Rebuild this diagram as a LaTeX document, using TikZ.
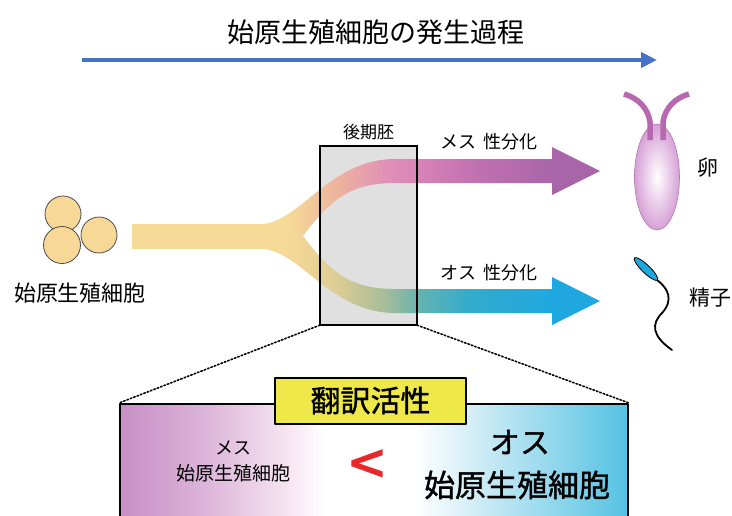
\documentclass[tikz,border=0pt]{standalone}
\usepackage{fontspec}
\setmainfont{Noto Sans CJK JP}[AutoFakeBold=1.2]
\newfontfamily\symfont{DejaVu Sans}
\usetikzlibrary{arrows.meta,positioning}

\definecolor{timeblue}{RGB}{68,114,196}
\definecolor{cellfill}{RGB}{247,216,151}
\definecolor{embryogray}{RGB}{224,224,224}
\definecolor{eggedge}{RGB}{214,160,214}
\definecolor{eggline}{RGB}{180,120,180}
\definecolor{tentacle}{RGB}{184,104,176}
\definecolor{spermblue}{RGB}{30,168,224}
\definecolor{tagyellow}{RGB}{238,232,74}
\definecolor{lessred}{RGB}{230,40,40}

\newcommand\jpsize[1]{\fontsize{#1}{#1}\selectfont}

% flow colours along x (path box maps to 25bp--75bp)
\pgfdeclarehorizontalshading{femaleflow}{100bp}{rgb(0bp)=(0.96,0.85,0.59); rgb(42bp)=(0.96,0.85,0.59);
  rgb(47bp)=(0.93,0.70,0.62); rgb(52bp)=(0.88,0.57,0.72); rgb(56bp)=(0.84,0.51,0.72);
  rgb(62bp)=(0.75,0.44,0.69); rgb(70bp)=(0.66,0.40,0.66); rgb(100bp)=(0.66,0.40,0.66)}
\pgfdeclarehorizontalshading{maleflow}{100bp}{rgb(0bp)=(0.96,0.85,0.59); rgb(42bp)=(0.96,0.85,0.59);
  rgb(47bp)=(0.86,0.80,0.58); rgb(52bp)=(0.65,0.74,0.60); rgb(56bp)=(0.38,0.70,0.70);
  rgb(61bp)=(0.20,0.67,0.80); rgb(70bp)=(0.12,0.66,0.88); rgb(100bp)=(0.12,0.66,0.88)}
\pgfdeclarehorizontalshading{panelshade}{100bp}{rgb(0bp)=(0.78,0.56,0.77); rgb(25bp)=(0.78,0.56,0.77);
  rgb(33bp)=(0.86,0.70,0.85); rgb(42bp)=(0.97,0.91,0.95); rgb(45bp)=(1,1,1); rgb(54bp)=(1,1,1);
  rgb(59bp)=(0.85,0.94,0.97); rgb(75bp)=(0.33,0.76,0.89); rgb(100bp)=(0.33,0.76,0.89)}

\tikzset{
  lbl/.style={inner sep=0pt},
  cell/.style={fill=cellfill,draw=black!70,line width=0.8pt},
  boxed/.style={draw=black,line width=2pt,inner sep=0pt},
}

\begin{document}
\begin{tikzpicture}[x=1pt,y=-1pt,line cap=round,line join=round]
  \useasboundingbox (0,0) rectangle (732,515);
  \clip (0,0) rectangle (732,515);

  % time line
  \node[lbl] (title) at (376,32) {\jpsize{27}始原生殖細胞の発生過程};
  \coordinate (tstart) at (82,60);
  \coordinate (tend) at (657,60);
  \draw[timeblue,line width=4pt,line cap=butt,-{Triangle[length=16pt,width=15pt]}] (tstart) -- (tend);

  % primordial germ cells
  \draw[cell] (63,214) circle (18);
  \draw[cell] (62,245) circle (18.5);
  \draw[cell] (99,235) circle (18);
  \node[lbl] (pgc) at (80,293) {\jpsize{22}始原生殖細胞};

  % late embryo window
  \node[fill=embryogray,inner sep=0pt,minimum width=97pt,minimum height=179pt] (late) at (368.5,235.5) {};
  \node[lbl,above=6pt of late] (lateLabel) {\jpsize{17}後期胚};

  % stem and branches
  \fill[cellfill] (132,224) rectangle (300,249);
  \shade[shading=femaleflow] (132,224) -- (262,224) .. controls (300,222) and (330,159) .. (395,159)
    -- (552,159) -- (552,147) -- (600,171) -- (552,195) -- (552,183) -- (395,183)
    .. controls (350,183) and (330,200) .. (303,236) -- (132,236) -- cycle;
  \shade[shading=maleflow] (132,249) -- (262,249) .. controls (300,250) and (330,313) .. (395,313)
    -- (552,313) -- (552,325) -- (600,301) -- (552,277) -- (552,289) -- (395,289)
    .. controls (350,289) and (330,272) .. (303,236) -- (132,236) -- cycle;
  \draw[line width=2pt,line join=miter] (late.south west) rectangle (late.north east);

  \node[lbl] (femaleLabel) at (489,142) {\jpsize{18}メス\hspace{0.4em}性分化};
  \node[lbl] (maleLabel) at (489,273) {\jpsize{18}オス\hspace{0.4em}性分化};

  % egg
  \shade[inner color=white,outer color=eggedge] (657,177) ellipse (22.5 and 53);
  \draw[eggline,line width=0.6pt] (657,177) ellipse (22.5 and 53);
  \draw[tentacle,line width=5.5pt,line cap=butt] (650,140) -- (650,122) .. controls (648,108) and (638,98) .. (624,94);
  \draw[tentacle,line width=5.5pt,line cap=butt] (663,140) -- (663,122) .. controls (665,108) and (675,98) .. (689,94);
  \node[lbl] (egg) at (708,168) {\jpsize{21}卵};

  % sperm
  \draw[line width=1.8pt] (657,280) .. controls (668,288) and (674,300) .. (662,313)
    .. controls (651,324) and (652,336) .. (672,350);
  \filldraw[fill=spermblue,draw=black,line width=0.8pt,rotate around={-44:(646,269)}] (646,269) ellipse (16 and 4);
  \node[lbl] (sperm) at (710,298) {\jpsize{21}精子};

  % translation activity panel
  \node[shading=panelshade,boxed,minimum width=508pt,minimum height=131pt] (panel) at (374,469.5) {};
  \draw[dotted,line width=1.6pt,line cap=round] (late.south west) -- (panel.north west);
  \draw[dotted,line width=1.6pt,line cap=round] (late.south east) -- (panel.north east);
  \node[boxed,fill=tagyellow,minimum width=191pt,minimum height=46pt] (tag) at (370.5,400.5) {\bfseries\jpsize{30}翻訳活性};

  \node[lbl] (femaleTop) at (233,448) {\jpsize{18}メス};
  \node[lbl] (femaleCells) at (233,473) {\jpsize{19}始原生殖細胞};
  \node[lbl,text=lessred] (less) at (367,465) {\symfont\bfseries\jpsize{50}<};
  \node[lbl] (maleTop) at (520,442) {\bfseries\jpsize{30}オス};
  \node[lbl] (maleCells) at (517,485) {\bfseries\jpsize{31}始原生殖細胞};
\end{tikzpicture}
\end{document}
